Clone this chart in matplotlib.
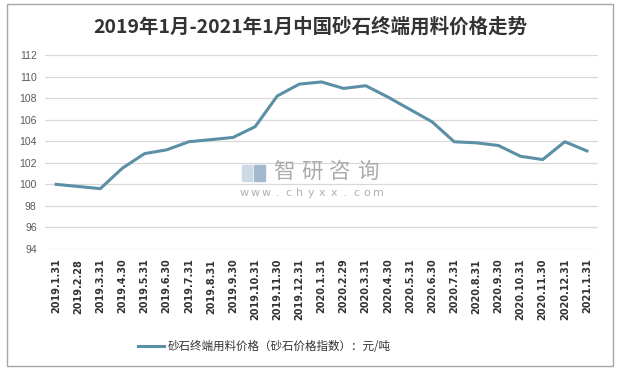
import matplotlib
matplotlib.use("Agg")
import matplotlib.pyplot as plt
from matplotlib.patches import Rectangle
from matplotlib.lines import Line2D

plt.rcParams['font.family'] = ['Noto Sans CJK SC', 'DejaVu Sans']

dates = ["2019.1.31", "2019.2.28", "2019.3.31", "2019.4.30", "2019.5.31", "2019.6.30",
         "2019.7.31", "2019.8.31", "2019.9.30", "2019.10.31", "2019.11.30", "2019.12.31",
         "2020.1.31", "2020.2.29", "2020.3.31", "2020.4.30", "2020.5.31", "2020.6.30",
         "2020.7.31", "2020.8.31", "2020.9.30", "2020.10.31", "2020.11.30", "2020.12.31",
         "2021.1.31"]
prices = [100.0, 99.8, 99.6, 101.5, 102.85, 103.2, 103.95, 104.15, 104.35, 105.35,
          108.2, 109.3, 109.5, 108.9, 109.15, 108.1, 106.95, 105.8, 103.95, 103.85,
          103.6, 102.6, 102.3, 103.95, 103.1]
yticks = [94, 96, 98, 100, 102, 104, 106, 108, 110, 112]

title = "2019年1月-2021年1月中国砂石终端用料价格走势"
legend_label = "砂石终端用料价格（砂石价格指数）：元/吨"
line_color = "#5a8fa5"

W, H = 622, 372
fig = plt.figure(figsize=(W / 100, H / 100), dpi=100)
fig.patch.set_facecolor("white")

# outer border
fig.patches.append(Rectangle((7 / W, 1 - 366 / H), 606 / W, 362 / H, transform=fig.transFigure,
                             fill=False, edgecolor="#a6a6a6", linewidth=1.0))

ax = fig.add_axes([45 / W, 1 - 249 / H, 553 / W, 194 / H])
x = list(range(len(dates)))
ax.plot(x, prices, color=line_color, linewidth=2.2, solid_joinstyle="round", zorder=3)
ax.set_xlim(-0.5, len(dates) - 0.5)
ax.set_ylim(94, 112)
ax.set_yticks(yticks)
ax.set_yticklabels([str(v) for v in yticks], fontfamily="Liberation Sans", fontsize=7.5, color="#595959")
ax.set_xticks(x)
ax.set_xticklabels(dates, rotation=90, fontfamily="DejaVu Sans", fontweight="bold",
                   fontsize=7.0, color="#333333")
ax.tick_params(axis="both", length=0)
ax.tick_params(axis="x", pad=7)
ax.tick_params(axis="y", pad=6)
ax.grid(axis="y", color="#d9d9d9", linewidth=0.9)
ax.set_axisbelow(True)
for s in ax.spines.values():
    s.set_visible(False)

fig.text(310 / W, 1 - 27 / H, title, ha="center", va="center", fontsize=14,
         fontweight="bold", color="#333333")

handle = Line2D([], [], color=line_color, linewidth=2.2)
fig.legend(handles=[handle], labels=[legend_label], loc="center",
           bbox_to_anchor=(264 / W, 1 - 347 / H), frameon=False, fontsize=8.3,
           handlelength=2.3, handletextpad=0.3, labelcolor="#333333")

# watermark
fig.patches.append(Rectangle((242 / W, 1 - 181 / H), 10 / W, 16 / H, transform=fig.transFigure,
                             color="#cdd9e5", zorder=0))
fig.patches.append(Rectangle((254 / W, 1 - 181 / H), 11 / W, 16 / H, transform=fig.transFigure,
                             color="#a3b9ce", zorder=0))
for i, ch in enumerate("智研咨询"):
    fig.text((284 + i * 28) / W, 1 - 172 / H, ch, ha="center", va="center", fontsize=15.5,
             color="#ababab", zorder=0)
for i, ch in enumerate("www.chyxx.com"):
    fig.text((244 + i * 11.2) / W, 1 - 193 / H, ch, ha="center", va="center", fontsize=8,
             color="#b0b0b0", zorder=0, fontfamily="DejaVu Sans")

fig.savefig("out.png", dpi=100)
